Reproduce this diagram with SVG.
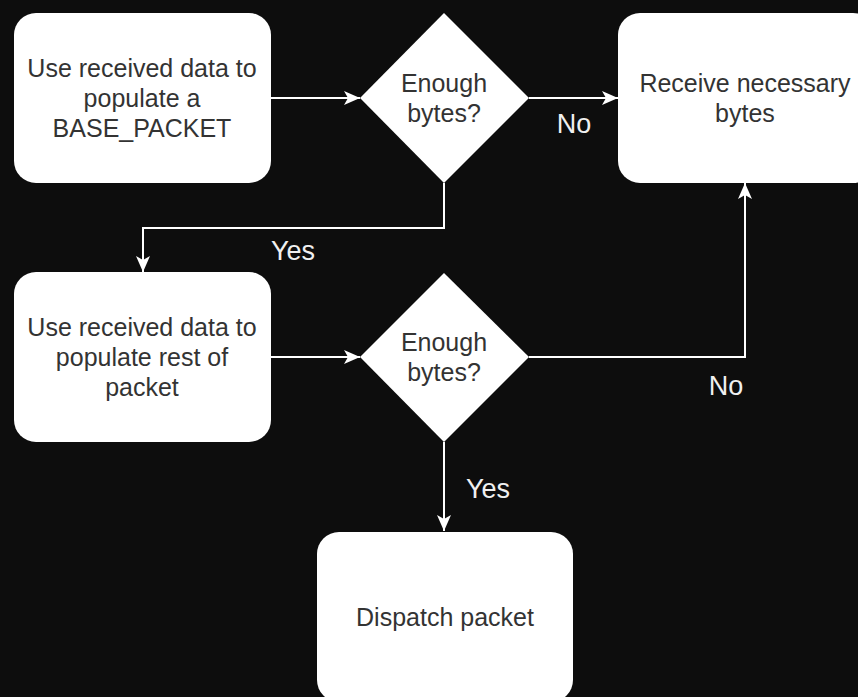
<svg xmlns="http://www.w3.org/2000/svg" width="858" height="697" viewBox="0 0 858 697">
<style>
.node{fill:#ffffff;stroke:none}
.t{font-family:"Liberation Sans",Arial,Helvetica,sans-serif;font-size:25px;fill:#333333;text-anchor:middle}
.lbl{font-family:"Liberation Sans",Arial,Helvetica,sans-serif;font-size:27px;fill:#f0f0f0;text-anchor:middle}
.edge{fill:none;stroke:#ffffff;stroke-width:2;marker-end:url(#arr)}
</style>
<defs>
<marker id="arr" markerUnits="userSpaceOnUse" markerWidth="16" markerHeight="14" viewBox="0 0 16 14" refX="16" refY="7" orient="auto">
<path d="M0,0 L16,7 L0,14 L4,7 z" fill="#ffffff"/>
</marker>
</defs>
<rect x="0" y="0" width="858" height="697" fill="#0d0d0d"/>
<g id="connectors">
<path class="edge" d="M271,98 L360,98"/>
<path class="edge" d="M529,98 L618,98"/>
<path class="edge" d="M444,183 L444,228 L143,228 L143,272"/>
<path class="edge" d="M271,357 L360,357"/>
<path class="edge" d="M529,357 L745,357 L745,183"/>
<path class="edge" d="M444,442 L444,531"/>
<text class="lbl" x="574" y="133">No</text>
<text class="lbl" x="293" y="260">Yes</text>
<text class="lbl" x="726" y="395">No</text>
<text class="lbl" x="488" y="498">Yes</text>
</g>
<g id="box1">
<rect class="node" x="14" y="13" width="257" height="170" rx="22" ry="22"/>
<text class="t" x="142" y="77">Use received data to</text>
<text class="t" x="142" y="107">populate a</text>
<text class="t" x="142" y="137">BASE_PACKET</text>
</g>
<g id="decision1">
<polygon class="node" points="444,13 529,98 444,183 360,98"/>
<text class="t" x="444" y="92">Enough</text>
<text class="t" x="444" y="122">bytes?</text>
</g>
<g id="receive">
<rect class="node" x="618" y="13" width="257" height="170" rx="22" ry="22"/>
<text class="t" x="745" y="92">Receive necessary</text>
<text class="t" x="745" y="122">bytes</text>
</g>
<g id="box2">
<rect class="node" x="14" y="272" width="257" height="170" rx="22" ry="22"/>
<text class="t" x="142" y="336">Use received data to</text>
<text class="t" x="142" y="366">populate rest of</text>
<text class="t" x="142" y="396">packet</text>
</g>
<g id="decision2">
<polygon class="node" points="444,273 529,357 444,442 360,357"/>
<text class="t" x="444" y="351">Enough</text>
<text class="t" x="444" y="381">bytes?</text>
</g>
<g id="dispatch">
<rect class="node" x="317" y="532" width="256" height="170" rx="22" ry="22"/>
<text class="t" x="445" y="626">Dispatch packet</text>
</g>
</svg>
